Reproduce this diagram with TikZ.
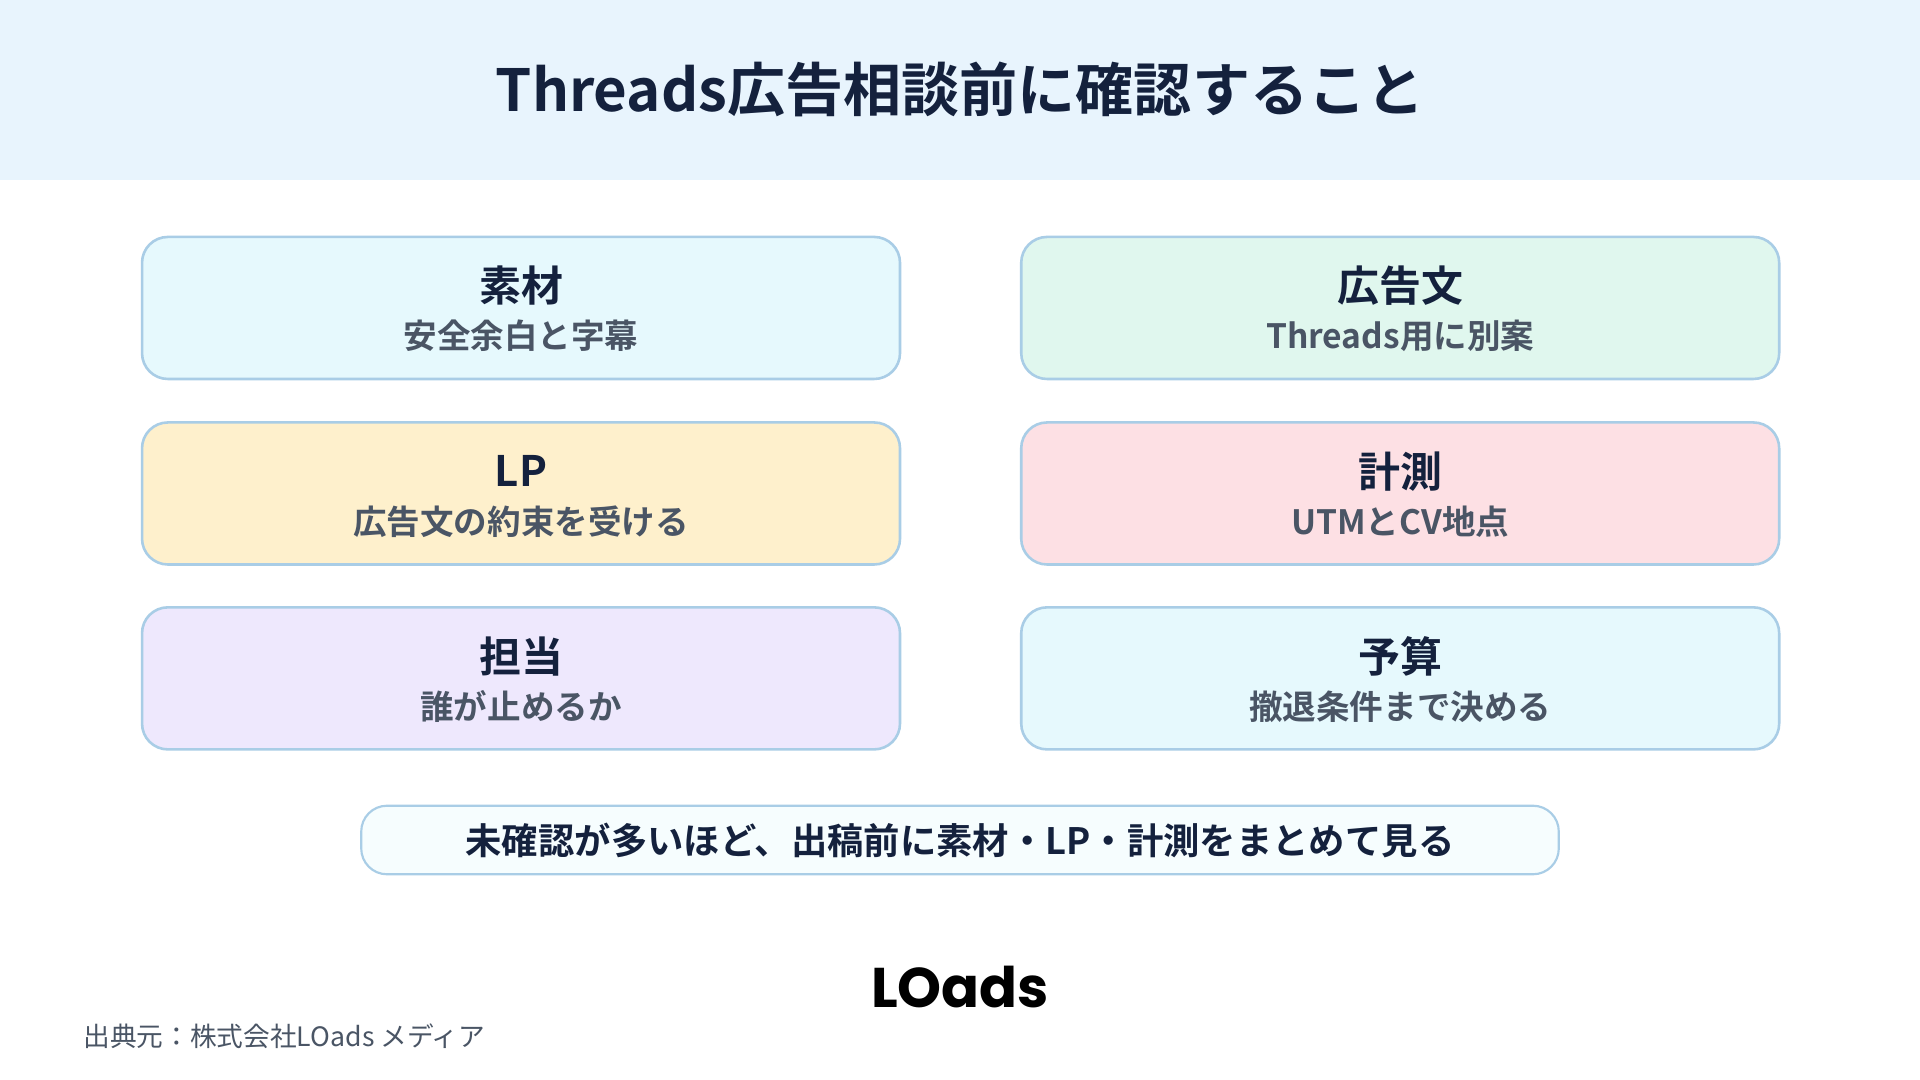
\documentclass[tikz,border=0pt]{standalone}
\usepackage{fontspec}
\newfontfamily\jp{Noto Sans CJK JP Bold}
\newfontfamily\jpr{Noto Sans CJK JP}
\newfontfamily\lsans{Poppins Bold}
\definecolor{navy}{HTML}{14213D}
\definecolor{gr}{HTML}{4A5565}
\definecolor{bd}{HTML}{A9CDE6}
\definecolor{hd}{HTML}{E8F4FD}
\definecolor{c1}{HTML}{E6F9FD}
\definecolor{c2}{HTML}{E0F7EE}
\definecolor{c3}{HTML}{FEF0CC}
\definecolor{c4}{HTML}{FDE0E4}
\definecolor{c5}{HTML}{EEE8FD}
\tikzset{card/.style={draw=bd,line width=1.2pt,rounded corners=12pt,minimum width=619*0.02cm,minimum height=116*0.02cm},
 ttl/.style={font=\jp\fontsize{19.5}{21}\selectfont,text=navy},
 sub/.style={font=\jp\fontsize{15.6}{17}\selectfont,text=gr}}
\begin{document}
\begin{tikzpicture}[x=0.02cm,y=-0.02cm]
\useasboundingbox (0,0) rectangle (1568,882);
\fill[white] (0,0) rectangle (1568,882);
\fill[hd] (0,0) rectangle (147*0+1568,147);
\node[font=\jp\fontsize{27}{30}\selectfont,text=navy] (title) at (784,73) {Threads広告相談前に確認すること};
\foreach \n/\x/\y/\c/\a/\b in {a/425.5/251.5/c1/素材/安全余白と字幕, b/1143.5/251.5/c2/広告文/Threads用に別案, c/425.5/403/c3/LP/広告文の約束を受ける, d/1143.5/403/c4/計測/UTMとCV地点, e/425.5/554/c5/担当/誰が止めるか, f/1143.5/554/c1/予算/撤退条件まで決める}{
 \node[card,fill=\c] (\n) at (\x,\y) {};
 \node[ttl] (\n t) at (\x,\y-18) {\a};
 \node[sub] (\n s) at (\x,\y+23) {\b};
}
\node[draw=bd,line width=1pt,fill=c1!35,rounded corners=12pt,minimum width=978*0.02cm,minimum height=56*0.02cm] (note) at (784,686) {};
\node[font=\jp\fontsize{16.9}{18}\selectfont,text=navy] (notet) at (784,686) {未確認が多いほど、出稿前に素材・LP・計測をまとめて見る};
\node[font=\lsans\fontsize{26}{28}\selectfont,text=black] (logo) at (784,806) {LOads};
\node[font=\jpr\fontsize{12.4}{14}\selectfont,text=gr,anchor=west] (src) at (62,846) {出典元：株式会社LOads メディア};
\end{tikzpicture}
\end{document}
